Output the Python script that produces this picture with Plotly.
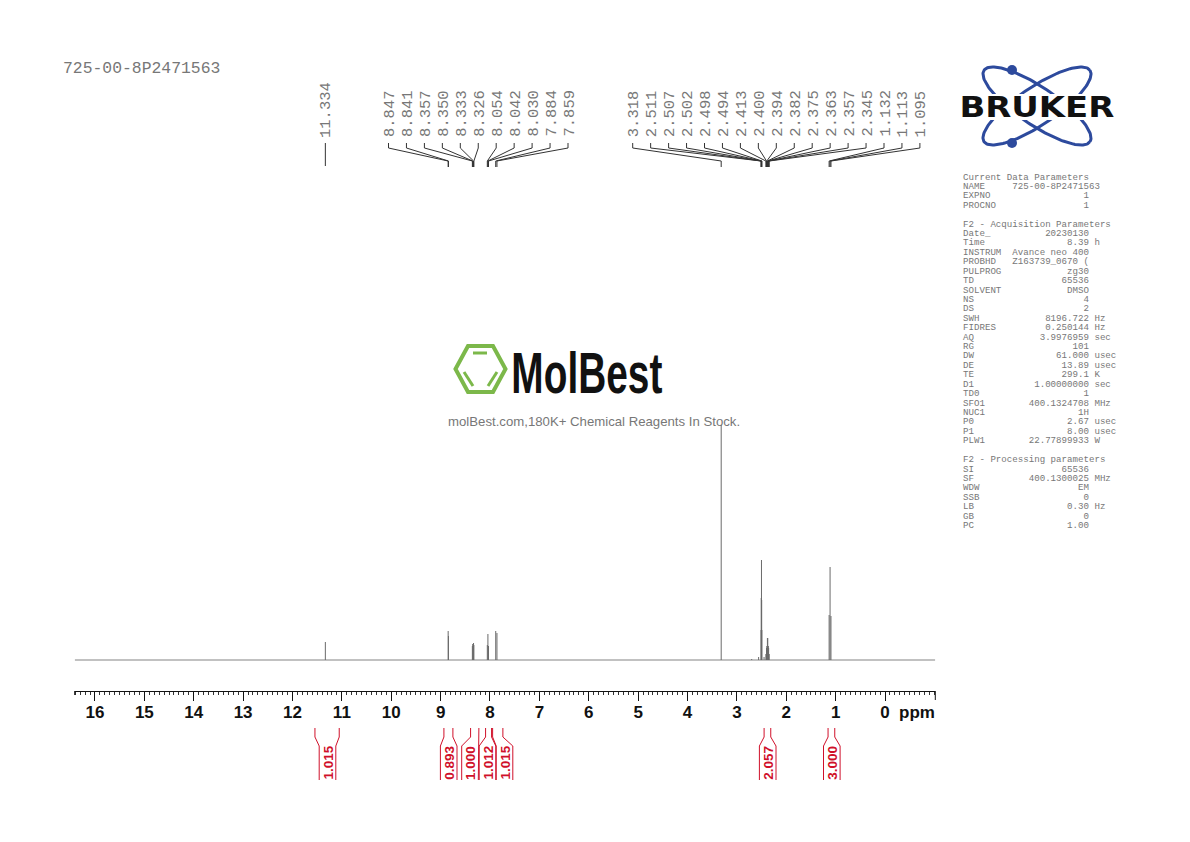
import numpy as np
import plotly.graph_objects as go

# axis calibration (page pixels)
PX_LEFT, PX_RIGHT = 74.7, 935.3
PPM_LEFT, PPM_RIGHT = 16.41, -1.018
AXIS_Y = 691
BASE_Y = 660

major_ticks = list(range(0, 17))

# assigned peaks: ppm from the labels, height in plot units
peak_ppm = [11.334, 8.847, 8.841, 8.357, 8.350, 8.333, 8.326, 8.054, 8.042, 8.030, 7.884, 7.859,
            3.318, 2.511, 2.507, 2.502, 2.498, 2.494, 2.413, 2.400, 2.394, 2.382, 2.375, 2.363,
            2.357, 2.345, 1.132, 1.113, 1.095]
peak_height = [18, 29, 24, 14, 16, 17, 15, 15, 26, 14, 29, 27,
               235, 30, 62, 100, 60, 30, 6, 12, 14, 22, 22, 14,
               12, 6, 45, 93, 44]
# small unlabelled satellites
small_ppm = [2.70, 2.56, 2.45]
small_height = [1, 3, 3]

group_a = ["8.847", "8.841", "8.357", "8.350", "8.333", "8.326", "8.054", "8.042", "8.030", "7.884", "7.859"]
group_b = ["3.318", "2.511", "2.507", "2.502", "2.498", "2.494", "2.413", "2.400", "2.394", "2.382",
           "2.375", "2.363", "2.357", "2.345", "1.132", "1.113", "1.095"]

integral_left = [11.545, 8.933, 8.393, 8.089, 7.947, 2.449, 1.154]
integral_right = [11.053, 8.751, 8.225, 7.968, 7.739, 2.314, 1.018]
integral_value = ["1.015", "0.893", "1.000", "1.012", "1.015", "2.057", "3.000"]
integral_label_x = [327.5, 448.7, 470.0, 487.5, 504.5, 767.7, 831.8]

params = [
    ("Current Data Parameters",), ("NAME", "725-00-8P2471563", ""), ("EXPNO", "1", ""), ("PROCNO", "1", ""), None,
    ("F2 - Acquisition Parameters",), ("Date_", "20230130", ""), ("Time", "8.39", "h"),
    ("INSTRUM", "Avance neo 400", ""), ("PROBHD", "Z163739_0670 (", ""), ("PULPROG", "zg30", ""),
    ("TD", "65536", ""), ("SOLVENT", "DMSO", ""), ("NS", "4", ""), ("DS", "2", ""),
    ("SWH", "8196.722", "Hz"), ("FIDRES", "0.250144", "Hz"), ("AQ", "3.9976959", "sec"), ("RG", "101", ""),
    ("DW", "61.000", "usec"), ("DE", "13.89", "usec"), ("TE", "299.1", "K"), ("D1", "1.00000000", "sec"),
    ("TD0", "1", ""), ("SFO1", "400.1324708", "MHz"), ("NUC1", "1H", ""), ("P0", "2.67", "usec"),
    ("P1", "8.00", "usec"), ("PLW1", "22.77899933", "W"), None,
    ("F2 - Processing parameters",), ("SI", "65536", ""), ("SF", "400.1300025", "MHz"), ("WDW", "EM", ""),
    ("SSB", "0", ""), ("LB", "0.30", "Hz"), ("GB", "0", ""), ("PC", "1.00", ""),
]


def ppm_px(ppm):
    return PX_LEFT + (PPM_LEFT - ppm) / (PPM_LEFT - PPM_RIGHT) * (PX_RIGHT - PX_LEFT)


def page_text(x, y, text, size, color, family="Liberation Mono", angle=0, xanchor="center", bold=False):
    if bold:
        text = "<b>" + text + "</b>"
    fig.add_annotation(x=x, y=y, xref="x2", yref="y2", text=text, showarrow=False, textangle=angle,
                       xanchor=xanchor, yanchor="middle", font=dict(family=family, size=size, color=color),
                       borderpad=0, borderwidth=0)


fig = go.Figure()

# spectrum
fig.add_trace(go.Scatter(x=[PPM_LEFT, PPM_RIGHT], y=[0, 0], mode="lines", line=dict(color="#adadad", width=1.5),
                         xaxis="x", yaxis="y", hoverinfo="skip"))
xs, ys = [], []
for p, h in zip(small_ppm + peak_ppm, small_height + peak_height):
    xs += [p, p, None]
    ys += [0, h, None]
fig.add_trace(go.Scatter(x=xs, y=ys, mode="lines", line=dict(color="#6a6a6a", width=1), xaxis="x", yaxis="y",
                         hoverinfo="skip"))

# peak labels and leaders
lx, ly = [], []
page_text(326, 110, "11.334", 15.5, "#777777", angle=-90)
lx += [ppm_px(11.334), ppm_px(11.334), None]
ly += [143, 166, None]
for labels, first_px in ((group_a, 388.5), (group_b, 632.7)):
    for i, lab in enumerate(labels):
        x0 = first_px + i * 17.95
        x1 = ppm_px(float(lab))
        page_text(x0 + 1, 113.5, lab, 15.5, "#777777", angle=-90)
        lx += [x0, x0, x1, x1, None]
        ly += [143, 148, 161, 167, None]
fig.add_trace(go.Scatter(x=lx, y=ly, mode="lines", line=dict(color="#333333", width=1), xaxis="x2", yaxis="y2",
                         hoverinfo="skip"))

# integrals
ix, iy = [], []
for left, right, cx, val in zip(integral_left, integral_right, integral_label_x, integral_value):
    a, b = ppm_px(left), ppm_px(right)
    ix += [a, a, cx - 8.3, cx - 8.3, None, b, b, cx + 8.3, cx + 8.3, None]
    iy += [728, 737, 746, 780, None, 728, 737, 746, 780, None]
    page_text(cx, 763, val, 13.5, "#d0102a", family="Liberation Sans", angle=-90, bold=True)
fig.add_trace(go.Scatter(x=ix, y=iy, mode="lines", line=dict(color="#d0102a", width=1), xaxis="x2", yaxis="y2",
                         hoverinfo="skip"))

# ruler end ticks
fig.add_trace(go.Scatter(x=[PX_RIGHT, PX_RIGHT, None, PX_LEFT, PX_LEFT], y=[AXIS_Y, AXIS_Y + 9, None, AXIS_Y, AXIS_Y + 4],
                         mode="lines", line=dict(color="#111111", width=1), xaxis="x2", yaxis="y2",
                         hoverinfo="skip"))

# bruker logo
t = np.linspace(0, 2 * np.pi, 160)
for tilt in (34, -34):
    th = np.radians(tilt)
    u, v = 63.9 * np.cos(t), 18.9 * np.sin(t)
    fig.add_trace(go.Scatter(x=1037 + u * np.cos(th) - v * np.sin(th), y=106 + u * np.sin(th) + v * np.cos(th),
                             mode="lines", line=dict(color="#2d4a9d", width=3), xaxis="x2", yaxis="y2",
                             hoverinfo="skip"))
fig.add_trace(go.Scatter(x=[1012, 1012], y=[70, 143], mode="markers", marker=dict(color="#2d4a9d", size=10),
                         xaxis="x2", yaxis="y2", hoverinfo="skip"))
fig.add_shape(type="rect", xref="x2", yref="y2", x0=955, x1=1118, y0=94, y1=120, fillcolor="white",
              line=dict(width=0), layer="above")
page_text(1036.5, 107, "BRUKER", 27.5, "#111111", family="DejaVu Sans", bold=True)

# molbest logo
green = "#7cb84a"
fig.add_shape(type="path", xref="x2", yref="y2", layer="above", line=dict(color=green, width=4),
              path="M 455.5 369 L 468 346 L 493 346 L 505.5 369 L 493 392 L 468 392 Z")
for a, b, c, d in ((473, 353, 487, 353), (464, 372, 473, 386), (488, 386, 497, 372)):
    fig.add_shape(type="line", xref="x2", yref="y2", layer="above", x0=a, y0=b, x1=c, y1=d,
                  line=dict(color=green, width=3))
page_text(586.5, 373, "MolBest", 57, "#111111", family="Liberation Sans", bold=True)
page_text(594, 421, "molBest.com,180K+ Chemical Reagents In Stock.", 13.2, "#777777", family="Liberation Sans")

page_text(63, 68, "725-00-8P2471563", 16.4, "#777777", xanchor="left")
page_text(899, 712, "ppm", 17, "#111111", family="Liberation Sans", xanchor="left", bold=True)

# parameter block
for i, row in enumerate(params):
    if row is None:
        continue
    if len(row) == 1:
        line = row[0]
    else:
        name, value, unit = row
        line = name.ljust(max(23 - len(value), 9)) + value + (" " + unit if unit else "")
    page_text(963, 177 + i * 9.42, line, 9.13, "#777777", xanchor="left")

fig.update_layout(
    width=1190, height=842, margin=dict(l=0, r=0, t=0, b=0), showlegend=False,
    paper_bgcolor="white", plot_bgcolor="rgba(0,0,0,0)",
    xaxis=dict(domain=[PX_LEFT / 1190, PX_RIGHT / 1190], range=[PPM_LEFT, PPM_RIGHT], anchor="y",
               tickvals=major_ticks, ticktext=["<b>%d</b>" % v for v in major_ticks],
               ticks="outside", ticklen=9, tickwidth=1, tickcolor="#111111", showline=True, linecolor="#111111",
               linewidth=1, showgrid=False, zeroline=False, ticklabelstandoff=-3,
               tickfont=dict(family="Liberation Sans", size=17, color="#111111"),
               minor=dict(dtick=0.1, tick0=0, ticks="outside", ticklen=3, tickwidth=1, tickcolor="#333333",
                          showgrid=False)),
    yaxis=dict(domain=[(842 - AXIS_Y) / 842, (842 - 200) / 842], range=[BASE_Y - AXIS_Y, BASE_Y - 200], anchor="x",
               visible=False),
    xaxis2=dict(domain=[0, 1], range=[0, 1190], anchor="y2", visible=False),
    yaxis2=dict(domain=[0, 1], range=[842, 0], anchor="x2", visible=False),
)

# squeeze or stretch the two logo words to their drawn width
post = """
document.body.style.margin = '0';
document.body.style.overflow = 'hidden';
var widths = {'MolBest': 151, 'BRUKER': 155};
document.querySelectorAll('.annotation-text').forEach(function (el) {
    var w = widths[el.textContent];
    if (!w) return;
    var b = el.getBBox();
    var cx = b.x + b.width / 2;
    var old = el.getAttribute('transform') || '';
    el.setAttribute('transform', old + ' translate(' + cx + ',0) scale(' + (w / b.width) + ',1) translate(' + (-cx) + ',0)');
});
"""
fig.write_html("out.html", post_script=post, config={"displayModeBar": False})
